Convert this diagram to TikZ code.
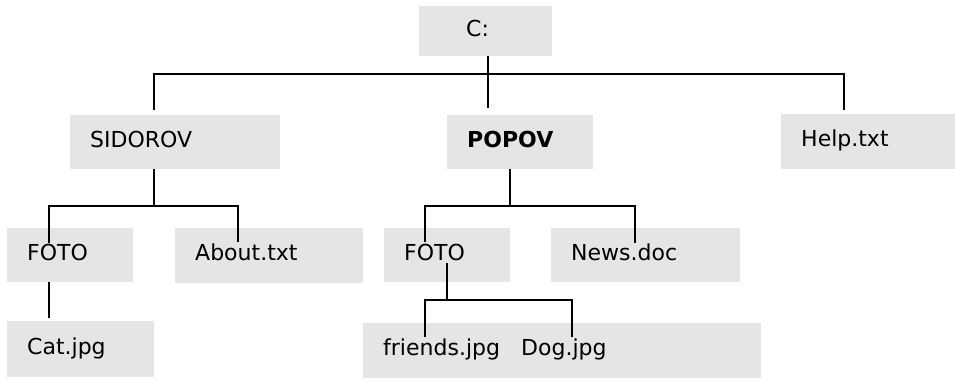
\documentclass[tikz,border=0pt]{standalone}
\usepackage{fontspec}
\setmainfont{DejaVu Sans}
\usetikzlibrary{positioning}
\definecolor{boxgray}{RGB}{229,229,229}

\begin{document}
\begin{tikzpicture}[
    x=1pt, y=-1pt,
    box/.style={rectangle, fill=boxgray, anchor=north west, align=left, minimum height=54pt,
        inner xsep=20pt, inner ysep=0pt, text height=16pt, text depth=6pt,
        font=\fontsize{22}{26}\selectfont},
    fname/.style={anchor=base west, inner sep=0pt, font=\fontsize{22}{26}\selectfont},
    link/.style={line width=1.8pt}
]
    \useasboundingbox (0,0) rectangle (955,382);

    % Root
    \node[box, minimum height=50pt, inner xsep=47pt, text width=39pt] (root) at (419,6) {C:};

    % Level 1
    \node[box, text width=170pt] (sidorov) at (70,115) {SIDOROV};
    \node[box, text width=106pt] (popov) at (447,115) {\textbf{POPOV}};
    \node[box, minimum height=55pt, text width=134pt] (help) at (781,114) {Help.txt};

    % Level 2
    \node[box, text width=86pt] (fotoa) at (7,228) {FOTO};
    \node[box, minimum height=55pt, text width=148pt] (about) at (175,228) {About.txt};
    \node[box, text width=86pt] (fotob) at (384,228) {FOTO};
    \node[box, text width=149pt] (news) at (551,228) {News.doc};

    % Level 3
    \node[box, minimum height=56pt, text width=107pt] (cat) at (7,321) {Cat.jpg};
    \node[box, minimum height=55pt, minimum width=398pt, inner sep=0pt] (pics) at (363,323) {};
    \node[fname] (friends) at (383,355) {friends.jpg};
    \node[fname] (dog) at (521,355) {Dog.jpg};

    % Links from C:
    \draw[link] ([xshift=69pt]root.south west) -- ([xshift=41pt,yshift=7pt]popov.north west);
    \draw[link] ([xshift=84pt,yshift=5pt]sidorov.north west) -- ++(0,-36) -| ([xshift=63pt,yshift=4pt]help.north west);

    % Links from SIDOROV
    \draw[link] ([xshift=84pt]sidorov.south west) -- ++(0,37);
    \draw[link] ([xshift=42pt,yshift=-15pt]fotoa.north west) -- ++(0,-37) -| ([xshift=63pt,yshift=-14pt]about.north west);
    \draw[link] ([xshift=42pt]fotoa.south west) -- ([xshift=42pt,yshift=3pt]cat.north west);

    % Links from POPOV
    \draw[link] ([xshift=63pt]popov.south west) -- ++(0,37);
    \draw[link] ([xshift=41pt,yshift=-14pt]fotob.north west) -- ++(0,-36) -| ([xshift=84pt,yshift=-15pt]news.north west);
    \draw[link] ([xshift=63pt,yshift=19pt]fotob.south west) -- ++(0,37);
    \draw[link] ([xshift=62pt,yshift=-14pt]pics.north west) -- ++(0,-37) -| ([xshift=209pt,yshift=-14pt]pics.north west);

\end{tikzpicture}
\end{document}
